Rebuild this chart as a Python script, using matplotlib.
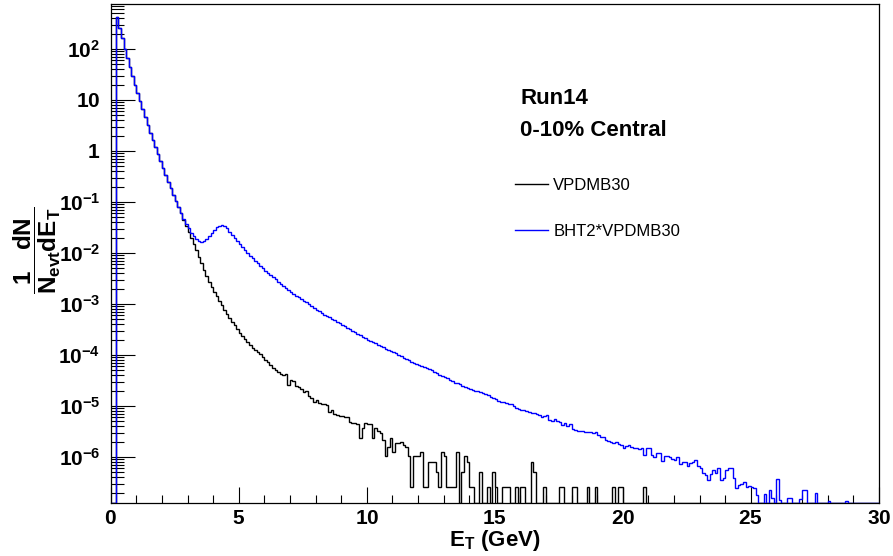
"""Run14 0-10% central E_T spectra: VPDMB30 vs BHT2*VPDMB30."""

import matplotlib
import numpy as np

matplotlib.use("Agg")
from matplotlib import pyplot as plt
from matplotlib import ticker
from matplotlib.lines import Line2D

nan = float("nan")

# 0.1 GeV bins from 0 to 30 GeV
bin_edges = np.linspace(0.0, 30.0, 301)

# log10(1/N_evt dN/dE_T) per bin; nan = empty bin
vpdmb30_log = [
    nan, nan, 2.62, 2.41, 2.21, 1.99, 1.82, 1.65, 1.46, 1.29,
    1.13, 0.97, 0.82, 0.66, 0.51, 0.36, 0.22, 0.07, -0.06, -0.20,
    -0.34, -0.47, -0.60, -0.73, -0.86, -0.98, -1.10, -1.22, -1.36, -1.47,
    -1.58, -1.70, -1.82, -1.95, -2.07, -2.20, -2.33, -2.46, -2.56, -2.66,
    -2.76, -2.85, -2.94, -3.03, -3.12, -3.20, -3.28, -3.35, -3.42, -3.49,
    -3.56, -3.62, -3.68, -3.74, -3.80, -3.86, -3.91, -3.95, -3.99, -4.04,
    -4.09, -4.14, -4.20, -4.26, -4.30, -4.34, -4.37, -4.39, -4.38, -4.58,
    -4.50, -4.52, -4.60, -4.63, -4.66, -4.72, -4.70, -4.80, -4.85, -4.92,
    -4.88, -4.95, -4.96, -4.97, -4.99, -5.12, -5.08, -5.15, -5.17, -5.19,
    -5.20, -5.21, -5.21, -5.31, -5.33, -5.34, -5.36, -5.63, -5.44, -5.34,
    -5.36, -5.36, -5.62, -5.44, -5.50, -5.53, -5.67, -5.99, -5.80, -5.63,
    -5.90, -5.73, -5.73, -5.70, -5.76, -5.80, -5.99, -6.58, -5.99, -5.99,
    -5.99, -5.90, -6.58, -6.58, -6.09, -6.09, -6.09, -6.29, -6.58, -5.90,
    -5.99, -6.58, -6.58, -6.58, -6.58, -5.90, nan, -6.29, -5.99, -6.09,
    -6.58, -6.58, nan, nan, -6.29, nan, nan, -6.58, nan, -6.29,
    -6.58, nan, nan, -6.58, -6.58, -6.58, nan, nan, -6.58, nan,
    -6.58, -6.58, nan, nan, -6.09, -6.29, nan, nan, nan, -6.58,
    nan, nan, nan, nan, nan, -6.58, -6.58, nan, nan, nan,
    -6.58, -6.58, nan, nan, nan, nan, -6.58, nan, nan, -6.58,
    nan, nan, nan, nan, nan, nan, -6.58, nan, -6.58, -6.58,
    nan, nan, nan, nan, nan, nan, nan, nan, -6.58, nan,
    nan, nan, nan, nan, nan, nan, nan, nan, nan, nan,
    nan, nan, nan, nan, nan, nan, nan, nan, nan, nan,
    nan, nan, nan, nan, nan, nan, nan, nan, nan, nan,
    nan, nan, nan, nan, nan, nan, nan, nan, nan, nan,
    nan, nan, nan, nan, nan, nan, nan, nan, nan, nan,
    nan, nan, nan, nan, nan, nan, nan, nan, nan, nan,
    nan, nan, nan, nan, nan, nan, nan, nan, nan, nan,
    nan, nan, nan, nan, nan, nan, nan, nan, nan, nan,
    nan, nan, nan, nan, nan, nan, nan, nan, nan, nan,
]

bht2_log = [
    nan, nan, 2.62, 2.41, 2.21, 1.99, 1.82, 1.65, 1.46, 1.29,
    1.13, 0.97, 0.82, 0.66, 0.51, 0.36, 0.22, 0.07, -0.06, -0.20,
    -0.34, -0.47, -0.60, -0.73, -0.86, -0.98, -1.10, -1.22, -1.34, -1.43,
    -1.52, -1.60, -1.67, -1.73, -1.77, -1.78, -1.76, -1.72, -1.67, -1.61,
    -1.55, -1.50, -1.47, -1.46, -1.48, -1.52, -1.58, -1.65, -1.71, -1.77,
    -1.83, -1.89, -1.95, -2.00, -2.05, -2.10, -2.15, -2.20, -2.25, -2.30,
    -2.35, -2.40, -2.44, -2.48, -2.52, -2.56, -2.60, -2.64, -2.68, -2.72,
    -2.76, -2.80, -2.84, -2.87, -2.91, -2.94, -2.97, -3.01, -3.04, -3.08,
    -3.11, -3.14, -3.18, -3.21, -3.23, -3.26, -3.29, -3.32, -3.35, -3.38,
    -3.42, -3.44, -3.47, -3.50, -3.53, -3.55, -3.58, -3.61, -3.64, -3.67,
    -3.70, -3.72, -3.75, -3.77, -3.80, -3.83, -3.85, -3.88, -3.90, -3.93,
    -3.95, -3.97, -4.00, -4.03, -4.05, -4.08, -4.10, -4.13, -4.15, -4.17,
    -4.19, -4.21, -4.23, -4.26, -4.28, -4.30, -4.33, -4.36, -4.39, -4.42,
    -4.44, -4.46, -4.49, -4.52, -4.54, -4.55, -4.57, -4.60, -4.62, -4.65,
    -4.67, -4.68, -4.70, -4.71, -4.72, -4.74, -4.77, -4.79, -4.82, -4.84,
    -4.87, -4.90, -4.92, -4.93, -4.95, -4.96, -4.97, -5.00, -5.04, -5.06,
    -5.07, -5.08, -5.09, -5.11, -5.13, -5.14, -5.16, -5.17, -5.21, -5.20,
    -5.18, -5.27, -5.29, -5.26, -5.30, -5.31, -5.37, -5.34, -5.39, -5.35,
    -5.45, -5.48, -5.49, -5.50, -5.50, -5.51, -5.52, -5.52, -5.53, -5.52,
    -5.56, -5.60, -5.61, -5.66, -5.69, -5.70, -5.73, -5.70, -5.74, -5.76,
    -5.83, -5.79, -5.76, -5.80, -5.82, -5.83, -5.84, -5.83, -5.96, -5.83,
    -5.83, -5.96, -6.01, -5.93, -5.93, -6.08, -5.98, -5.98, -6.00, -6.03,
    -6.05, -6.01, -6.13, -6.09, -6.09, -6.18, -6.12, -6.10, -6.06, -6.17,
    -6.22, -6.32, -6.35, -6.45, -6.33, -6.25, -6.32, -6.22, -6.45, -6.42,
    -6.25, -6.22, -6.22, -6.41, -6.61, -6.55, -6.53, -6.50, -6.58, -6.57,
    -6.58, -6.60, -6.75, nan, nan, -6.72, nan, -6.65, -6.81, nan,
    -6.44, -6.84, nan, nan, -6.80, -6.80, nan, nan, nan, -6.82,
    -6.65, -6.65, nan, nan, nan, -6.70, nan, nan, nan, nan,
    -6.86, nan, nan, nan, nan, nan, nan, -6.86, nan, nan,
    nan, nan, nan, nan, nan, nan, nan, nan, nan, nan,
]

series_labels = ["VPDMB30", "BHT2*VPDMB30"]
series_colors = ["black", "blue"]

y_min, y_max = 1.28e-7, 760.0
decades = list(range(-6, 3))

plt.rcParams.update(
    {
        "font.family": ["Liberation Sans", "DejaVu Sans"],
        "mathtext.fontset": "custom",
        "mathtext.rm": "Liberation Sans:bold",
        "mathtext.it": "Liberation Sans:bold",
        "mathtext.bf": "Liberation Sans:bold",
        "mathtext.sf": "Liberation Sans:bold",
        "mathtext.default": "rm",
    }
)


def _to_values(logs):
    values = 10.0 ** np.asarray(logs, dtype=float)
    # empty bins sit on the bottom of the frame, as ROOT draws them
    return np.where(np.isnan(values), y_min, values)


def _decade_label(value, _pos):
    k = int(round(np.log10(value)))
    if k == 0:
        return r"$1$"
    if k == 1:
        return r"$10$"
    return rf"$10^{{{k}}}$"


figure = plt.figure(figsize=(8.93, 5.56), dpi=100)
axis = figure.add_axes((0.124, 0.0962, 0.860, 0.8966))

for logs, color in zip([vpdmb30_log, bht2_log], series_colors):
    axis.stairs(_to_values(logs), bin_edges, color=color, lw=1.0, baseline=None, zorder=3)

axis.set_yscale("log")
axis.set_xlim(0, 30)
axis.set_ylim(y_min, y_max)

axis.yaxis.set_major_locator(ticker.FixedLocator([10.0**k for k in decades]))
axis.yaxis.set_major_formatter(ticker.FuncFormatter(_decade_label))
axis.yaxis.set_minor_locator(ticker.LogLocator(base=10, subs=np.arange(2, 10), numticks=20))
axis.yaxis.set_minor_formatter(ticker.NullFormatter())
axis.xaxis.set_major_locator(ticker.MultipleLocator(5))
axis.xaxis.set_minor_locator(ticker.MultipleLocator(1))
axis.xaxis.set_major_formatter(ticker.FuncFormatter(lambda v, _p: rf"${v:.0f}$"))

axis.tick_params(axis="both", which="both", direction="in", top=False, right=False, width=0.8)
axis.tick_params(axis="y", which="major", length=17, pad=7.5, labelsize=15)
axis.tick_params(axis="y", which="minor", length=9)
axis.tick_params(axis="x", which="major", length=11.5, pad=5.0, labelsize=15)
axis.tick_params(axis="x", which="minor", length=5.8)
for spine in axis.spines.values():
    spine.set_linewidth(0.9)

axis.set_xlabel(r"$E_{T}$ (GeV)", fontsize=16, fontweight="bold", labelpad=0)

figure.text(
    37 / 893,
    1 - 250 / 556,
    r"$\dfrac{1\ \ \ dN}{N_{evt}dE_{T}}$",
    rotation=90,
    ha="center",
    va="center",
    fontsize=17.5,
)

figure.text(521 / 893, 1 - 104 / 556, "Run14", fontsize=16, fontweight="bold", va="baseline")
figure.text(520 / 893, 1 - 136 / 556, "0-10% Central", fontsize=16, fontweight="bold", va="baseline")

handles = [Line2D([], [], color=c, lw=1.0) for c in series_colors]
figure.legend(
    handles,
    series_labels,
    loc="upper left",
    bbox_to_anchor=(515 / 893, 1 - 178 / 556),
    frameon=False,
    fontsize=12,
    handlelength=1.95,
    handletextpad=0.35,
    labelspacing=1.85,
    borderpad=0,
    borderaxespad=0,
)

figure.savefig("out.png", dpi=100)
plt.close(figure)
